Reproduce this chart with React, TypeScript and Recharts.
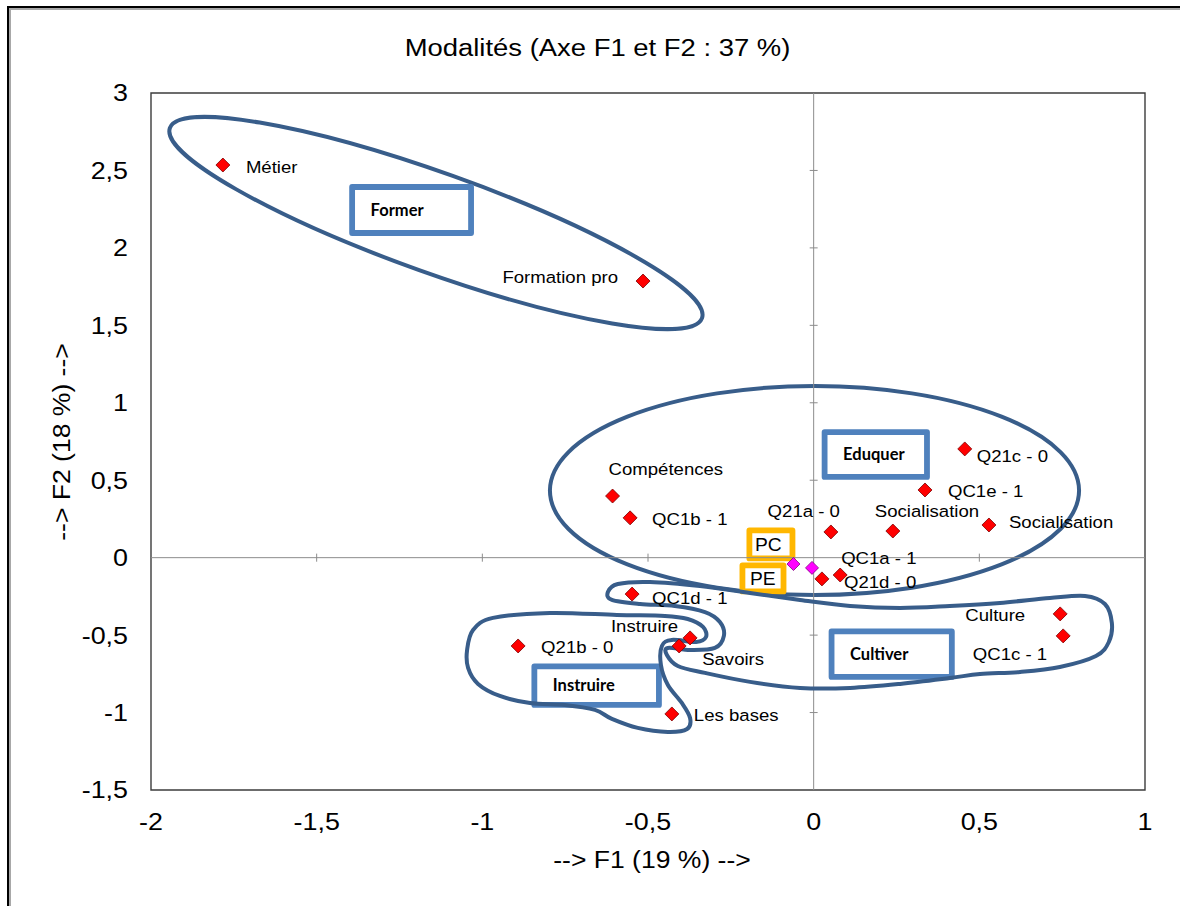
import React from 'react';
import { ScatterChart, Scatter, XAxis, YAxis, ReferenceLine, ReferenceArea } from 'recharts';

// ---------- data ----------
const categories = ['Métier', 'Formation pro', 'Compétences', 'QC1b - 1', 'Q21a - 0', 'Socialisation', 'QC1e - 1', 'Q21c - 0', 'Socialisation', 'QC1a - 1', 'Q21d - 0', 'QC1d - 1', 'Q21b - 0', 'Instruire', 'Savoirs', 'Les bases', 'Culture', 'QC1c - 1'];
const f1Values = [-1.783, -0.515, -0.607, -0.554, 0.052, 0.239, 0.336, 0.456, 0.529, 0.080, 0.025, -0.548, -0.892, -0.373, -0.406, -0.428, 0.744, 0.753];
const f2Values = [2.535, 1.786, 0.398, 0.257, 0.166, 0.172, 0.437, 0.702, 0.211, -0.112, -0.137, -0.235, -0.570, -0.518, -0.570, -1.009, -0.363, -0.505];

const supNames = ['PC', 'PE'];
const supF1 = [-0.061, -0.005];
const supF2 = [-0.041, -0.066];

const xTicks = [-2, -1.5, -1, -0.5, 0, 0.5, 1];
const yTicks = [-1.5, -1, -0.5, 0, 0.5, 1, 1.5, 2, 2.5, 3];

// label placement (pixels, relative to the marker), kept apart from the values
const labelDx = [23, -25, -4, 22, 9, -18, 23, 12, 20, 1, 22, 20, 23, -12, 23, 22, -35, -16];
const labelDy = [2, -4, -27, 1, -21, -20, 1, 7, -3, -17, 3, 4, 1, -12, 13, 1, 1, 18];
const labelAnchor = ['start', 'end', 'start', 'start', 'end', 'start', 'start', 'start', 'start', 'start', 'start', 'start', 'start', 'end', 'start', 'start', 'end', 'end'];

// group boxes (F1/F2 units)
const groupNames = ['Former', 'Eduquer', 'Cultiver', 'Instruire'];
const groupX1 = [-1.393, 0.033, 0.054, -0.843];
const groupX2 = [-1.034, 0.342, 0.417, -0.467];
const groupY1 = [2.393, 0.811, -0.476, -0.702];
const groupY2 = [2.096, 0.521, -0.770, -0.951];

const tagNames = ['PC', 'PE'];
const tagX1 = [-0.194, -0.215];
const tagX2 = [-0.064, -0.091];
const tagY1 = [0.176, -0.050];
const tagY2 = [-0.005, -0.218];

// hand-drawn outlines (F1/F2 units)
const formerEllipse = { x1: -1.943, y1: 2.774, x2: -0.337, y2: 1.547 };
const eduquerEllipse = { x1: -0.796, y1: 1.108, x2: 0.801, y2: -0.241 };

const cultiverOutline = [
  [-0.621, -0.222], [-0.591, -0.170], [-0.494, -0.157], [-0.343, -0.183], [-0.192, -0.228], [-0.041, -0.273],
  [0.110, -0.312], [0.261, -0.325], [0.411, -0.312], [0.562, -0.292], [0.713, -0.260], [0.819, -0.247],
  [0.879, -0.299], [0.900, -0.422], [0.891, -0.544], [0.852, -0.635], [0.743, -0.706], [0.623, -0.738],
  [0.502, -0.751], [0.411, -0.777], [0.261, -0.815], [0.110, -0.841], [-0.041, -0.841], [-0.192, -0.802],
  [-0.328, -0.744], [-0.410, -0.699], [-0.443, -0.628], [-0.440, -0.583], [-0.373, -0.596], [-0.298, -0.583],
  [-0.271, -0.505], [-0.283, -0.415], [-0.328, -0.351], [-0.419, -0.312], [-0.524, -0.299], [-0.609, -0.273],
];
const instruireOutline = [
  [-1.046, -0.596], [-1.028, -0.467], [-0.968, -0.389], [-0.796, -0.357], [-0.594, -0.370], [-0.449, -0.376],
  [-0.380, -0.396], [-0.334, -0.447], [-0.325, -0.512], [-0.355, -0.544], [-0.428, -0.531], [-0.458, -0.570],
  [-0.461, -0.693], [-0.440, -0.822], [-0.398, -0.938], [-0.373, -1.035], [-0.382, -1.106], [-0.440, -1.125],
  [-0.531, -1.099], [-0.609, -1.041], [-0.660, -0.983], [-0.751, -0.951], [-0.856, -0.938], [-0.947, -0.893],
  [-1.013, -0.815], [-1.043, -0.712],
];

// ---------- style ----------
const FONT = '"Liberation Sans", Arial, sans-serif';
const BOX_FONT = 'Lato, "Liberation Sans", sans-serif';
const SX = 1.12;
const OUTLINE = '#385d8a';
const BOX_BLUE = '#4f81bd';
const ORANGE = '#ffb700';

const points = categories.map((name, i) => ({ name, x: f1Values[i], y: f2Values[i], i }));
const supPoints = supNames.map((name, i) => ({ name, x: supF1[i], y: supF2[i] }));
const toXY = (arr: number[][]) => arr.map(([x, y]) => ({ x, y }));

const catmullRomClosed = (context: any) => {
  let pts: number[][] = [];
  return {
    areaStart() {},
    areaEnd() {},
    lineStart() { pts = []; },
    point(x: number, y: number) { pts.push([+x, +y]); },
    lineEnd() {
      const n = pts.length;
      if (!n) return;
      context.moveTo(pts[0][0], pts[0][1]);
      for (let i = 0; i < n; i++) {
        const p0 = pts[(i + n - 1) % n], p1 = pts[i], p2 = pts[(i + 1) % n], p3 = pts[(i + 2) % n];
        context.bezierCurveTo(
          p1[0] + (p2[0] - p0[0]) / 6, p1[1] + (p2[1] - p0[1]) / 6,
          p2[0] - (p3[0] - p1[0]) / 6, p2[1] - (p3[1] - p1[1]) / 6,
          p2[0], p2[1]);
      }
      context.closePath();
    },
  };
};

function T({ x, y, size, anchor = 'start', weight = 'normal', family = FONT, rotate = 0, sx = SX, children }: any) {
  return (
    <text
      transform={`translate(${x},${y})${rotate ? ` rotate(${rotate})` : ''} scale(${sx},1)`}
      x={0} y={0} dy="0.35em" fontSize={size} fontFamily={family} fontWeight={weight}
      textAnchor={anchor} fill="#000">
      {children}
    </text>
  );
}

const fmt = (v: number) => String(v).replace('.', ',');

const XTick = (p: any) => <T x={p.x} y={p.y} size={24} anchor="middle">{fmt(p.payload.value)}</T>;
const YTick = (p: any) => <T x={p.x} y={p.y} size={24} anchor="end">{fmt(p.payload.value)}</T>;

const Diamond = ({ cx, cy, r, fill, stroke }: any) => (
  <polygon points={`${cx},${cy - r} ${cx + r},${cy} ${cx},${cy + r} ${cx - r},${cy}`} fill={fill} stroke={stroke} strokeWidth={0.8} />
);

const PointShape = (p: any) => {
  const i = p.payload.i;
  return (
    <g>
      <Diamond cx={p.cx} cy={p.cy} r={7} fill="#ff0000" stroke="#7a0000" />
      <T x={p.cx + labelDx[i]} y={p.cy + labelDy[i]} size={16.6} anchor={labelAnchor[i]}>{p.payload.name}</T>
    </g>
  );
};
const SupShape = (p: any) => <Diamond cx={p.cx} cy={p.cy} r={6.5} fill="#ff00ff" stroke="#800080" />;
const Hidden = () => <g />;

const makeBox = (text: string, color: string, pad: number, family: string, weight: string, size: number, sx: number) => (p: any) => (
  <g>
    <rect x={p.x} y={p.y} width={p.width} height={p.height} fill="#ffffff" stroke={color} strokeWidth={5.8} strokeLinejoin="round" />
    <T x={p.x + pad} y={p.y + p.height / 2} size={size} family={family} weight={weight} sx={sx}>{text}</T>
  </g>
);

const AxisEllipse = (p: any) => (
  <ellipse cx={p.x + p.width / 2} cy={p.y + p.height / 2} rx={p.width / 2} ry={p.height / 2} fill="none" stroke={OUTLINE} strokeWidth={4} />
);
const DiagonalEllipse = (p: any) => {
  const cx = p.x + p.width / 2;
  const cy = p.y + p.height / 2;
  const a = Math.hypot(p.width, p.height) / 2;
  const ang = (Math.atan2(p.height, p.width) * 180) / Math.PI;
  return <ellipse cx={cx} cy={cy} rx={a} ry={50} transform={`rotate(${ang} ${cx} ${cy})`} fill="none" stroke={OUTLINE} strokeWidth={4} />;
};

const TICK_HALF_Y = 0.026;
const TICK_HALF_X = 0.012;

export default function App() {
  return (
    <div style={{ position: 'absolute', left: 0, top: 0, width: 1180, height: 906, overflow: 'hidden', background: '#fff' }}>
      <div style={{ position: 'absolute', left: 7, top: 6, width: 1400, height: 1200, borderLeft: '2px solid #000', borderTop: '2px solid #000', boxShadow: 'inset 2px 2px 0 #a8a8a8' }} />
      <div style={{ position: 'absolute', left: 0, top: 0 }}>
        <ScatterChart width={1180} height={906} margin={{ top: 93, right: 35, bottom: 76, left: 91 }}>
          <XAxis type="number" dataKey="x" domain={[-2, 1]} ticks={xTicks} interval={0} allowDataOverflow
            axisLine={false} tickLine={false} tickSize={0} tickMargin={32} height={40} tick={<XTick />} />
          <YAxis type="number" dataKey="y" domain={[-1.5, 3]} ticks={yTicks} interval={0} allowDataOverflow
            axisLine={false} tickLine={false} tickSize={0} tickMargin={23} width={60} tick={<YTick />} />
          <ReferenceArea x1={-2} x2={1} y1={-1.5} y2={3} fill="none" stroke="#3c3c3c" strokeWidth={1.4} ifOverflow="visible" />
          <ReferenceLine x={0} stroke="#8c8c8c" strokeWidth={1} />
          <ReferenceLine y={0} stroke="#8c8c8c" strokeWidth={1} />
          {xTicks.filter((t) => t !== 0 && t !== -2 && t !== 1).map((t) => (
            <ReferenceLine key={`xt${t}`} segment={[{ x: t, y: -TICK_HALF_Y }, { x: t, y: TICK_HALF_Y }]} stroke="#8c8c8c" strokeWidth={1} />
          ))}
          {yTicks.filter((t) => t !== 0 && t !== -1.5 && t !== 3).map((t) => (
            <ReferenceLine key={`yt${t}`} segment={[{ x: -TICK_HALF_X, y: t }, { x: TICK_HALF_X, y: t }]} stroke="#8c8c8c" strokeWidth={1} />
          ))}
          <ReferenceArea x1={formerEllipse.x1} x2={formerEllipse.x2} y1={formerEllipse.y1} y2={formerEllipse.y2} shape={DiagonalEllipse} />
          <ReferenceArea x1={eduquerEllipse.x1} x2={eduquerEllipse.x2} y1={eduquerEllipse.y1} y2={eduquerEllipse.y2} shape={AxisEllipse} />
          <Scatter name="cultiver-outline" data={toXY(cultiverOutline)} shape={Hidden} isAnimationActive={false}
            line={{ stroke: OUTLINE, strokeWidth: 4, strokeLinejoin: 'round' }} lineType="joint" lineJointType={catmullRomClosed as any} />
          <Scatter name="instruire-outline" data={toXY(instruireOutline)} shape={Hidden} isAnimationActive={false}
            line={{ stroke: OUTLINE, strokeWidth: 4, strokeLinejoin: 'round' }} lineType="joint" lineJointType={catmullRomClosed as any} />
          {groupNames.map((g, i) => (
            <ReferenceArea key={g} x1={groupX1[i]} x2={groupX2[i]} y1={groupY1[i]} y2={groupY2[i]}
              shape={makeBox(g, BOX_BLUE, 18.5, BOX_FONT, 'bold', 16.5, 1)} />
          ))}
          {tagNames.map((g, i) => (
            <ReferenceArea key={g} x1={tagX1[i]} x2={tagX2[i]} y1={tagY1[i]} y2={tagY2[i]}
              shape={makeBox(g, ORANGE, i === 0 ? 5.5 : 7.5, FONT, 'normal', 17.5, 1.1)} />
          ))}
          <Scatter name="supplementary" data={supPoints} shape={SupShape} isAnimationActive={false} />
          <Scatter name="modalites" data={points} shape={PointShape} isAnimationActive={false} />
        </ScatterChart>
      </div>
      <svg width={1180} height={906} style={{ position: 'absolute', left: 0, top: 0, pointerEvents: 'none' }}>
        <T x={597.5} y={47} size={24.5} anchor="middle">Modalités (Axe F1 et F2 : 37 %)</T>
        <T x={652} y={860} size={23.7} anchor="middle">--&gt; F1 (19 %) --&gt;</T>
        <T x={62} y={442} size={23.7} anchor="middle" rotate={-90}>--&gt; F2 (18 %) --&gt;</T>
      </svg>
    </div>
  );
}
